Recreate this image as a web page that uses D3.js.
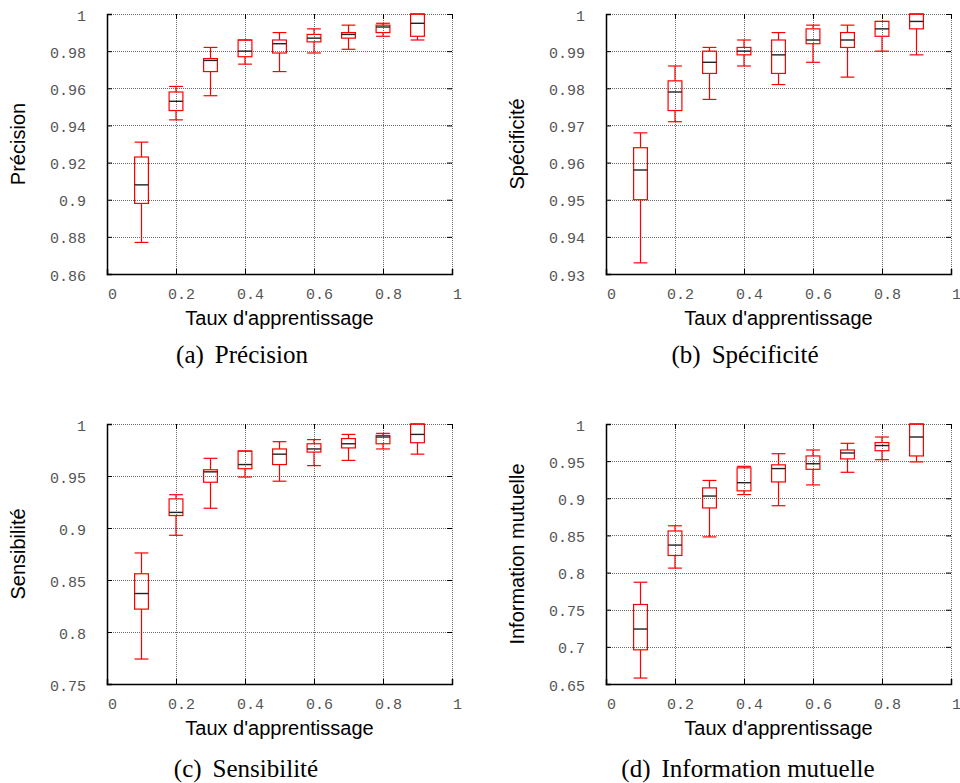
<!DOCTYPE html>
<html><head><meta charset="utf-8">
<script src="https://cdn.jsdelivr.net/npm/d3@7"></script>
<style>
html,body{margin:0;padding:0;background:#fff;}
svg{display:block;}
</style></head>
<body>
<svg id="chart" width="960" height="783"></svg>
<script>
// ---- data ----
const rates = [0.1, 0.2, 0.3, 0.4, 0.5, 0.6, 0.7, 0.8, 0.9];
const xTicks = [0, 0.2, 0.4, 0.6, 0.8, 1];
const xTickLabels = ["0", "0.2", "0.4", "0.6", "0.8", "1"];
const xTitle = "Taux d'apprentissage";

// each row: [min, q1, median, q3, max]
const precision = [
  [0.877, 0.898, 0.908, 0.923, 0.931],
  [0.943, 0.948, 0.953, 0.958, 0.961],
  [0.956, 0.969, 0.975, 0.976, 0.982],
  [0.973, 0.977, 0.980, 0.986, 0.986],
  [0.969, 0.979, 0.984, 0.986, 0.990],
  [0.979, 0.985, 0.987, 0.989, 0.992],
  [0.981, 0.987, 0.989, 0.990, 0.994],
  [0.988, 0.990, 0.993, 0.994, 0.995],
  [0.986, 0.988, 0.995, 1.000, 1.000]
];
const specificity = [
  [0.933, 0.950, 0.958, 0.964, 0.968],
  [0.971, 0.974, 0.979, 0.982, 0.986],
  [0.977, 0.984, 0.987, 0.990, 0.991],
  [0.986, 0.989, 0.990, 0.991, 0.993],
  [0.981, 0.984, 0.989, 0.993, 0.995],
  [0.987, 0.992, 0.993, 0.996, 0.997],
  [0.983, 0.991, 0.993, 0.995, 0.997],
  [0.990, 0.994, 0.996, 0.998, 0.998],
  [0.989, 0.996, 0.998, 1.000, 1.000]
];
const sensitivity = [
  [0.774, 0.822, 0.837, 0.856, 0.876],
  [0.893, 0.912, 0.915, 0.928, 0.932],
  [0.919, 0.944, 0.954, 0.956, 0.967],
  [0.949, 0.957, 0.961, 0.974, 0.974],
  [0.945, 0.961, 0.971, 0.976, 0.983],
  [0.960, 0.973, 0.976, 0.981, 0.985],
  [0.965, 0.977, 0.981, 0.986, 0.990],
  [0.976, 0.981, 0.9875, 0.989, 0.991],
  [0.971, 0.982, 0.990, 1.000, 1.000]
];
const mutualInfo = [
  [0.658, 0.696, 0.724, 0.757, 0.787],
  [0.806, 0.823, 0.837, 0.856, 0.863],
  [0.848, 0.887, 0.903, 0.914, 0.924],
  [0.905, 0.910, 0.921, 0.941, 0.943],
  [0.890, 0.922, 0.940, 0.945, 0.960],
  [0.918, 0.939, 0.9465, 0.957, 0.965],
  [0.935, 0.953, 0.961, 0.965, 0.974],
  [0.952, 0.964, 0.971, 0.975, 0.9825],
  [0.949, 0.957, 0.9825, 1.000, 1.000]
];

const precTicks = [0.86, 0.88, 0.90, 0.92, 0.94, 0.96, 0.98, 1];
const precTickLabels = ["0.86", "0.88", "0.9", "0.92", "0.94", "0.96", "0.98", "1"];
const specTicks = [0.93, 0.94, 0.95, 0.96, 0.97, 0.98, 0.99, 1];
const specTickLabels = ["0.93", "0.94", "0.95", "0.96", "0.97", "0.98", "0.99", "1"];
const sensTicks = [0.75, 0.80, 0.85, 0.90, 0.95, 1];
const sensTickLabels = ["0.75", "0.8", "0.85", "0.9", "0.95", "1"];
const miTicks = [0.65, 0.70, 0.75, 0.80, 0.85, 0.90, 0.95, 1];
const miTickLabels = ["0.65", "0.7", "0.75", "0.8", "0.85", "0.9", "0.95", "1"];

const yTitles = ["Précision", "Spécificité", "Sensibilité", "Information mutuelle"];
const captionTags = ["(a)", "(b)", "(c)", "(d)"];
const captionTexts = ["Précision", "Spécificité", "Sensibilité", "Information mutuelle"];

// ---- layout ----
const panels = [
  {data: precision,   ticks: precTicks, labels: precTickLabels, left: 107, top: 14,  capX: 242, capDy: 89},
  {data: specificity, ticks: specTicks, labels: specTickLabels, left: 606, top: 14,  capX: 745, capDy: 89},
  {data: sensitivity, ticks: sensTicks, labels: sensTickLabels, left: 107, top: 424, capX: 246, capDy: 93},
  {data: mutualInfo,  ticks: miTicks,   labels: miTickLabels,   left: 606, top: 424, capX: 748, capDy: 93}
];
const W = 345, H = 260, boxW = 0.04, tickLen = 5;

const svg = d3.select("#chart");

panels.forEach((p, i) => {
  const g = svg.append("g").attr("transform", `translate(${p.left},${p.top})`);
  const x = d3.scaleLinear().domain([0, 1]).range([0, W]);
  const y = d3.scaleLinear().domain([p.ticks[0], 1]).range([H, 0]);

  // grid
  const grid = g.append("g");
  grid.selectAll("line.hg").data(p.ticks.slice(1)).join("line")
    .attr("x1", 0).attr("x2", W)
    .attr("y1", d => Math.round(y(d)) + 0.5).attr("y2", d => Math.round(y(d)) + 0.5)
    .attr("stroke", "#6a6a6a").attr("stroke-width", 1).attr("stroke-dasharray", "1,1");
  grid.selectAll("line.vg").data(xTicks.slice(1)).join("line")
    .attr("y1", 0).attr("y2", H)
    .attr("x1", d => Math.round(x(d)) + 0.5).attr("x2", d => Math.round(x(d)) + 0.5)
    .attr("stroke", "#6a6a6a").attr("stroke-width", 1).attr("stroke-dasharray", "1,1");

  // axes with inward ticks + mirrored ticks
  const axL = d3.axisLeft(y).tickValues(p.ticks).tickSize(-tickLen).tickFormat((d, k) => p.labels[k]);
  const axR = d3.axisRight(y).tickValues(p.ticks).tickSize(-tickLen).tickFormat("");
  const axB = d3.axisBottom(x).tickValues(xTicks).tickSize(-tickLen).tickFormat((d, k) => xTickLabels[k]);
  const axT = d3.axisTop(x).tickValues(xTicks).tickSize(-tickLen).tickFormat("");

  const gl = g.append("g").call(axL);
  const gr = g.append("g").attr("transform", `translate(${W},0)`).call(axR);
  const gb = g.append("g").attr("transform", `translate(0,${H})`).call(axB);
  const gt = g.append("g").call(axT);
  [gr, gt].forEach(a => a.select(".domain").remove());
  [gl, gr, gb, gt].forEach(a => a.selectAll(".tick line").attr("stroke", "#000"));
  gl.select(".domain").attr("stroke", "#000").attr("stroke-width", 1.5);
  gb.select(".domain").attr("stroke", "#000").attr("stroke-width", 1.5);
  gl.selectAll(".tick text")
    .attr("x", -21).attr("dy", "0.4em")
    .attr("font-family", "'Liberation Mono', 'DejaVu Sans Mono', monospace")
    .attr("font-size", 15).attr("fill", "#555");
  gb.selectAll(".tick text")
    .attr("y", 14).attr("dx", 5).attr("dy", "0.71em")
    .attr("font-family", "'Liberation Mono', 'DejaVu Sans Mono', monospace")
    .attr("font-size", 15).attr("fill", "#555");

  // boxes
  const bx = g.append("g");
  const rows = p.data.map((v, k) => ({r: rates[k], v}));
  const half = (x(boxW) - x(0)) / 2;
  const item = bx.selectAll("g.b").data(rows).join("g");
  const red = "#ff0000";
  // whiskers
  item.append("line")
    .attr("x1", d => x(d.r)).attr("x2", d => x(d.r))
    .attr("y1", d => y(d.v[0])).attr("y2", d => y(d.v[1]))
    .attr("stroke", red).attr("stroke-width", 1.2);
  item.append("line")
    .attr("x1", d => x(d.r)).attr("x2", d => x(d.r))
    .attr("y1", d => y(d.v[3])).attr("y2", d => y(d.v[4]))
    .attr("stroke", red).attr("stroke-width", 1.2);
  // caps
  item.append("line")
    .attr("x1", d => x(d.r) - half).attr("x2", d => x(d.r) + half)
    .attr("y1", d => y(d.v[0])).attr("y2", d => y(d.v[0]))
    .attr("stroke", red).attr("stroke-width", 1.2);
  item.append("line")
    .attr("x1", d => x(d.r) - half).attr("x2", d => x(d.r) + half)
    .attr("y1", d => y(d.v[4])).attr("y2", d => y(d.v[4]))
    .attr("stroke", red).attr("stroke-width", 1.2);
  // box
  item.append("rect")
    .attr("x", d => x(d.r) - half).attr("width", half * 2)
    .attr("y", d => y(d.v[3])).attr("height", d => y(d.v[1]) - y(d.v[3]))
    .attr("fill", "none").attr("stroke", red).attr("stroke-width", 1.2);
  // median
  item.append("line")
    .attr("x1", d => x(d.r) - half).attr("x2", d => x(d.r) + half)
    .attr("y1", d => y(d.v[2])).attr("y2", d => y(d.v[2]))
    .attr("stroke", "#222").attr("stroke-width", 1.4);

  // titles
  g.append("text")
    .attr("x", W / 2).attr("y", H + 51)
    .attr("text-anchor", "middle")
    .attr("font-family", "'Liberation Sans', Arial, sans-serif")
    .attr("font-size", 20).attr("fill", "#000")
    .text(xTitle);
  g.append("text")
    .attr("transform", `translate(${-82},${H / 2}) rotate(-90)`)
    .attr("text-anchor", "middle")
    .attr("font-family", "'Liberation Sans', Arial, sans-serif")
    .attr("font-size", 20).attr("fill", "#000")
    .text(yTitles[i]);

  // caption
  const cap = svg.append("text")
    .attr("x", p.capX).attr("y", p.top + H + p.capDy)
    .attr("text-anchor", "middle")
    .attr("font-family", "'Liberation Serif', 'Times New Roman', serif")
    .attr("font-size", 25).attr("fill", "#000");
  cap.append("tspan").text(captionTags[i]);
  cap.append("tspan").attr("dx", 11).text(captionTexts[i]);
});
</script>
</body></html>
